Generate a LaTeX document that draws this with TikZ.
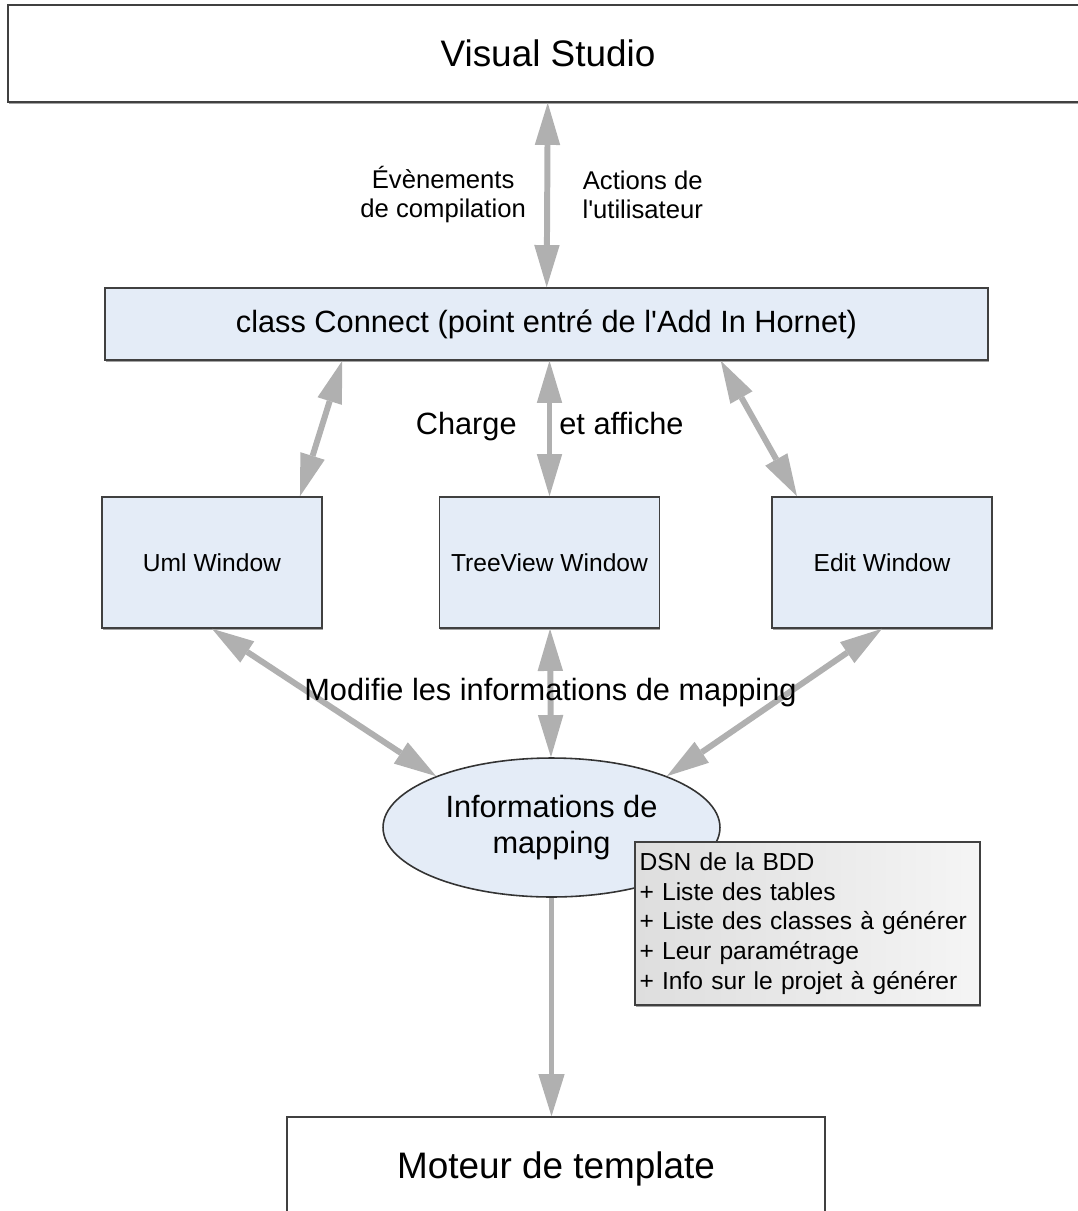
\documentclass[tikz,border=0pt]{standalone}
\usepackage{fontspec}
\setmainfont{Liberation Sans}
\usetikzlibrary{positioning,arrows.meta,shapes.geometric,shadows}
\definecolor{boxblue}{RGB}{228,236,247}
\definecolor{arrgray}{RGB}{176,176,176}

\begin{document}
\begin{tikzpicture}[x=0.02cm, y=-0.02cm, every node/.style={font=\fontsize{14}{17}\selectfont},
  box/.style={draw=black!75, line width=0.9pt, fill=white, drop shadow={shadow xshift=0.5pt, shadow yshift=-1.2pt, fill=black!45, opacity=0.8}},
  winbox/.style={box, fill=boxblue, minimum width=4.4cm, minimum height=2.62cm},
  notebox/.style={box, left color=black!13, right color=black!4, align=left, text width=6.72cm, minimum height=3.26cm, inner sep=2.5pt},
  big/.style={font=\fontsize{21}{25}\selectfont},
  lbl/.style={font=\fontsize{17.5}{21}\selectfont},
  small/.style={font=\fontsize{14.6}{16.5}\selectfont, align=center},
  arr/.style={{Triangle[length=24pt, width=14.5pt, line width=0pt]}-{Triangle[length=24pt, width=14.5pt, line width=0pt]}, line width=3.4pt, draw=arrgray},
  arrone/.style={-{Triangle[length=24pt, width=15pt, line width=0pt]}, line width=3.4pt, draw=arrgray}]
\useasboundingbox (0,0) rectangle (1078,1211);
\node[box, big, minimum width=21.6cm, minimum height=1.94cm] (vs) at (548,53.5) {Visual Studio};
\node[box, lbl, fill=boxblue, minimum width=17.66cm, minimum height=1.44cm] (connect) at (546.5,324) {class Connect (point entré de l\textquotesingle Add In Hornet)};
\node[winbox] (uml) at (212,562.5) {Uml Window};
\node[winbox] (tree) at (549.5,562.5) {TreeView Window};
\node[winbox] (edit) at (882,562.5) {Edit Window};
\node[ellipse, draw=black!80, line width=0.9pt, fill=boxblue, lbl, align=center, minimum width=6.74cm, minimum height=2.78cm, inner sep=0pt] (info) at (551.5,827.5) {Informations de\\mapping};
\node[notebox] (note) at (807.5,923.5) {DSN de la BDD\\+ Liste des tables\\+ Liste des classes à générer\\+ Leur paramétrage\\+ Info sur le projet à générer};
\node[box, big, minimum width=10.76cm, minimum height=2.08cm] (moteur) at (556,1169) {Moteur de template};

\draw[arr] (vs) -- (connect)
  node[midway, left=0.25cm, small] {Évènements\\de compilation}
  node[midway, right=0.53cm, small] {Actions de\\l\textquotesingle utilisateur};
\draw[arr] ([xshift=4.76cm]connect.south west) -- ([xshift=1.76cm]uml.north);
\draw[arr] (tree.north |- connect.south) -- (tree.north)
  node[midway, left=0.48cm, lbl, text height=1.6ex, text depth=0.4ex] {Charge}
  node[midway, right=0.02cm, lbl, text height=1.6ex, text depth=0.4ex] {et affiche};
\draw[arr] ([xshift=-5.36cm]connect.south east) -- ([xshift=-1.7cm]edit.north);
\foreach \a/\b in {uml.south/info.156, edit.south/info.24} \draw[arr] (\a) -- (\b);
\draw[arr] (tree) -- (info) node[midway, lbl] {Modifie les informations de mapping};
\draw[arrone] (info.south) -- (info.south |- moteur.north);
\end{tikzpicture}
\end{document}
